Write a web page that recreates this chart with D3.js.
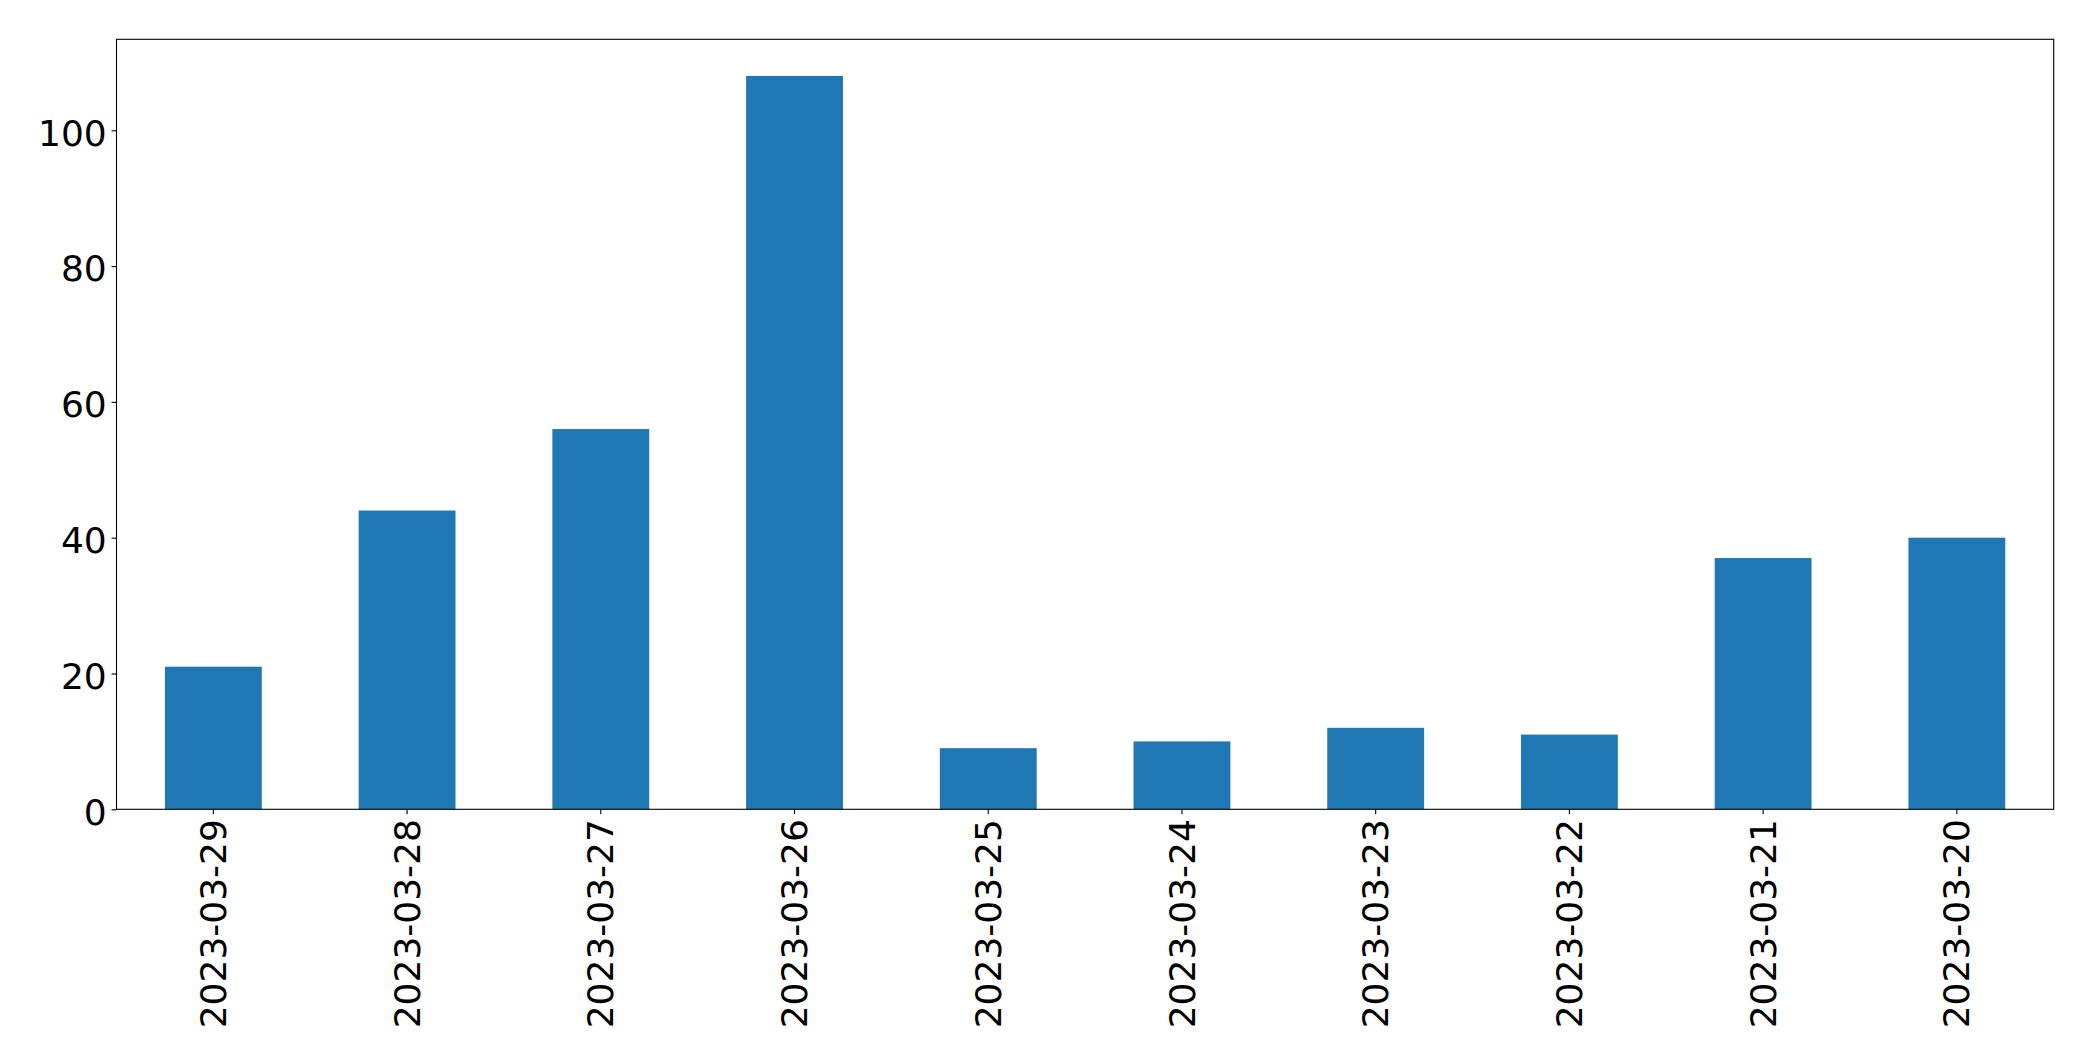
<!DOCTYPE html>
<html>
<head>
<meta charset="utf-8">
<script src="https://cdn.jsdelivr.net/npm/d3@7"></script>
<style>
  html, body { margin: 0; padding: 0; background: #fff; }
  svg { display: block; }
</style>
</head>
<body>
<svg id="chart" width="2093" height="1061"></svg>
<script>
const categories = ["2023-03-29","2023-03-28","2023-03-27","2023-03-26","2023-03-25","2023-03-24","2023-03-23","2023-03-22","2023-03-21","2023-03-20"];
const values = [21, 44, 56, 108, 9, 10, 12, 11, 37, 40];
const yTicks = [0, 20, 40, 60, 80, 100];

const W = 2093, H = 1061;
const margin = { left: 116.5, right: W - 2053.7, top: 39.3, bottom: H - 809.3 };
const svg = d3.select("#chart");
const font = "'DejaVu Sans', sans-serif";
const fontSize = 36;

const x = d3.scaleBand()
  .domain(categories)
  .range([margin.left, W - margin.right])
  .paddingInner(0.5)
  .paddingOuter(0.25);

const yMax = d3.max(values) * 1.05;
const y = d3.scaleLinear()
  .domain([0, yMax])
  .range([H - margin.bottom, margin.top]);

// bars
svg.append("g")
  .selectAll("rect")
  .data(values)
  .join("rect")
  .attr("x", (d, i) => x(categories[i]))
  .attr("width", x.bandwidth())
  .attr("y", d => y(d))
  .attr("height", d => y(0) - y(d))
  .attr("fill", "#1f77b4");

// y axis
const yAxis = d3.axisLeft(y).tickValues(yTicks).tickSize(4.9).tickPadding(4.9);
const gy = svg.append("g")
  .attr("transform", `translate(${margin.left},0)`)
  .call(yAxis);
gy.select(".domain").remove();
gy.selectAll(".tick line").attr("stroke", "#000").attr("stroke-width", 1.1);
gy.selectAll(".tick text")
  .attr("font-family", font)
  .attr("font-size", fontSize)
  .attr("fill", "#000")
  .attr("dy", "0.41em");

// x axis
const xAxis = d3.axisBottom(x).tickSize(4.9).tickPadding(4.9);
const gx = svg.append("g")
  .attr("transform", `translate(0,${H - margin.bottom})`)
  .call(xAxis);
gx.select(".domain").remove();
gx.selectAll(".tick line").attr("stroke", "#000").attr("stroke-width", 1.1);
gx.selectAll(".tick text")
  .attr("font-family", font)
  .attr("font-size", fontSize)
  .attr("fill", "#000")
  .attr("text-anchor", "end")
  .attr("x", 0)
  .attr("y", 0)
  .attr("dy", "0.35em")
  .attr("transform", "translate(0,9.8) rotate(-90)");

// frame
svg.append("rect")
  .attr("x", margin.left)
  .attr("y", margin.top)
  .attr("width", W - margin.left - margin.right)
  .attr("height", H - margin.top - margin.bottom)
  .attr("fill", "none")
  .attr("stroke", "#000")
  .attr("stroke-width", 1.1);
</script>
</body>
</html>
